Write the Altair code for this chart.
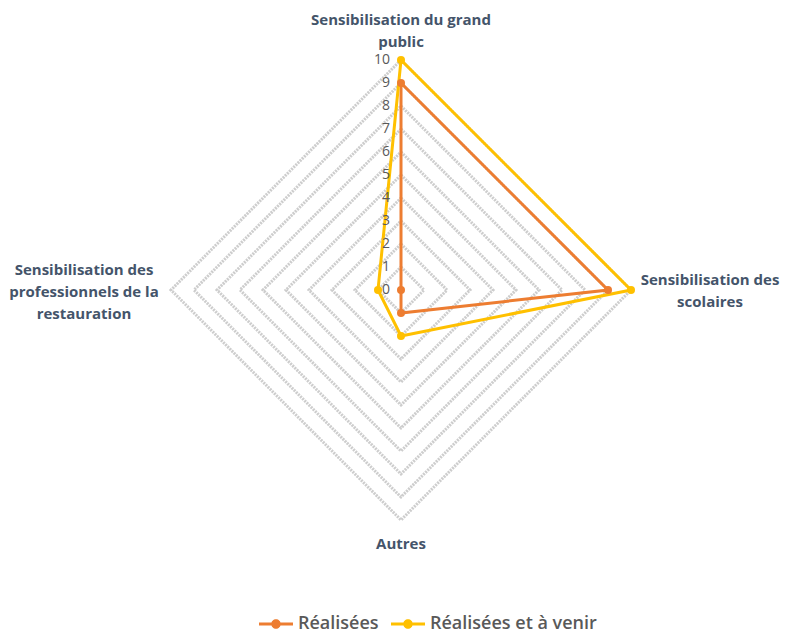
import altair as alt
import pandas as pd

# ---------------- data ----------------
categories = [
    "Sensibilisation du grand public",
    "Sensibilisation des scolaires",
    "Autres",
    "Sensibilisation des professionnels de la restauration",
]
category_lines = [
    ["Sensibilisation du grand", "public"],
    ["Sensibilisation des", "scolaires"],
    ["Autres"],
    ["Sensibilisation des", "professionnels de la", "restauration"],
]
series_names = ["Réalisées", "Réalisées et à venir"]
realisees = [9, 9, 1, 0]
realisees_a_venir = [10, 10, 2, 1]
tick_values = list(range(0, 11))
colors = ["#ED7D31", "#FFC000"]

# ---------------- layout ----------------
W, H = 786, 634
CX, CY, PPU = 401, 290, 23.0  # centre of radar (px) and px per unit
xs = alt.Scale(domain=[-CX / PPU, (W - CX) / PPU], range=[0, W], nice=False, zero=False)
ys = alt.Scale(domain=[-(H - CY) / PPU, CY / PPU], range=[H, 0], nice=False, zero=False)

n = len(categories)
rows = []
for s, vals in zip(series_names, [realisees, realisees_a_venir]):
    for i, (c, v) in enumerate(zip(categories, vals)):
        rows.append({"series": s, "category": c, "idx": i, "value": v})
df = pd.DataFrame(rows)

grid = pd.DataFrame(
    [{"level": lv, "idx": i, "value": lv} for lv in tick_values[1:] for i in range(n)]
)
ticks = pd.DataFrame({"value": tick_values, "idx": 0, "label": [str(t) for t in tick_values]})
labels = pd.DataFrame({"idx": list(range(n)), "value": 10, "lines": category_lines})


def polar(ch):
    return ch.transform_calculate(
        ang=f"datum.idx * 2 * PI / {n}"
    ).transform_calculate(
        px="datum.value * sin(datum.ang)",
        py="datum.value * cos(datum.ang)",
    )


X = alt.X("px:Q", scale=xs, axis=None)
Y = alt.Y("py:Q", scale=ys, axis=None)

grid_layer = polar(alt.Chart(grid)).mark_line(
    interpolate="linear-closed", stroke="#cdcdcd", strokeWidth=3, strokeDash=[2, 1]
).encode(x=X, y=Y, detail="level:N", order="idx:Q")

cscale = alt.Scale(domain=series_names, range=colors)

line_layers = []
for s, col in zip(series_names, colors):
    line_layers.append(
        polar(alt.Chart(df)).transform_filter(alt.datum.series == s).mark_line(
            interpolate="linear-closed", strokeWidth=3, stroke=col
        ).encode(x=X, y=Y, order="idx:Q")
    )

legend_path = (
    "M-1,-0.09L1,-0.09L1,0.09L-1,0.09Z "
    "M0.28,0A0.28,0.28 0 1,1 -0.28,0A0.28,0.28 0 1,1 0.28,0Z"
)
points = polar(alt.Chart(df)).mark_point(filled=True, size=64, opacity=1).encode(
    x=X, y=Y,
    color=alt.Color(
        "series:N", scale=cscale,
        legend=alt.Legend(
            title=None, orient="none", legendX=259, legendY=607,
            direction="horizontal", symbolType=legend_path, symbolSize=1156,
            symbolOpacity=1, symbolStrokeWidth=0,
            labelFontSize=18, labelFontWeight=600, labelColor="#595959",
            labelFont="Open Sans", columnPadding=12, labelOffset=5,
            labelLimit=400,
        ),
    ),
)

tick_layer = polar(alt.Chart(ticks)).mark_text(
    align="right", baseline="middle", dx=-11, fontSize=14, color="#595959", font="Open Sans"
).encode(x=X, y=Y, text="label:N")

label_specs = [
    dict(align="center", baseline="middle", dx=0, dy=-40),
    dict(align="center", baseline="middle", dx=79, dy=-10),
    dict(align="center", baseline="middle", dx=0, dy=24),
    dict(align="center", baseline="middle", dx=-87, dy=-20),
]
label_layers = []
for i, spec in enumerate(label_specs):
    label_layers.append(
        polar(alt.Chart(labels)).transform_filter(alt.datum.idx == i).mark_text(
            fontSize=15, fontWeight="bold", color="#44546A", font="Open Sans",
            lineHeight=22, **spec
        ).encode(x=X, y=Y, text="lines")
    )

chart = alt.layer(
    grid_layer, *line_layers, points, tick_layer, *label_layers
).properties(
    width=W, height=H, autosize=alt.AutoSizeParams(type="none"), padding=0,
    background="white",
).configure_view(stroke=None)

chart.save("out.html", embed_options={"renderer": "svg", "actions": False})
